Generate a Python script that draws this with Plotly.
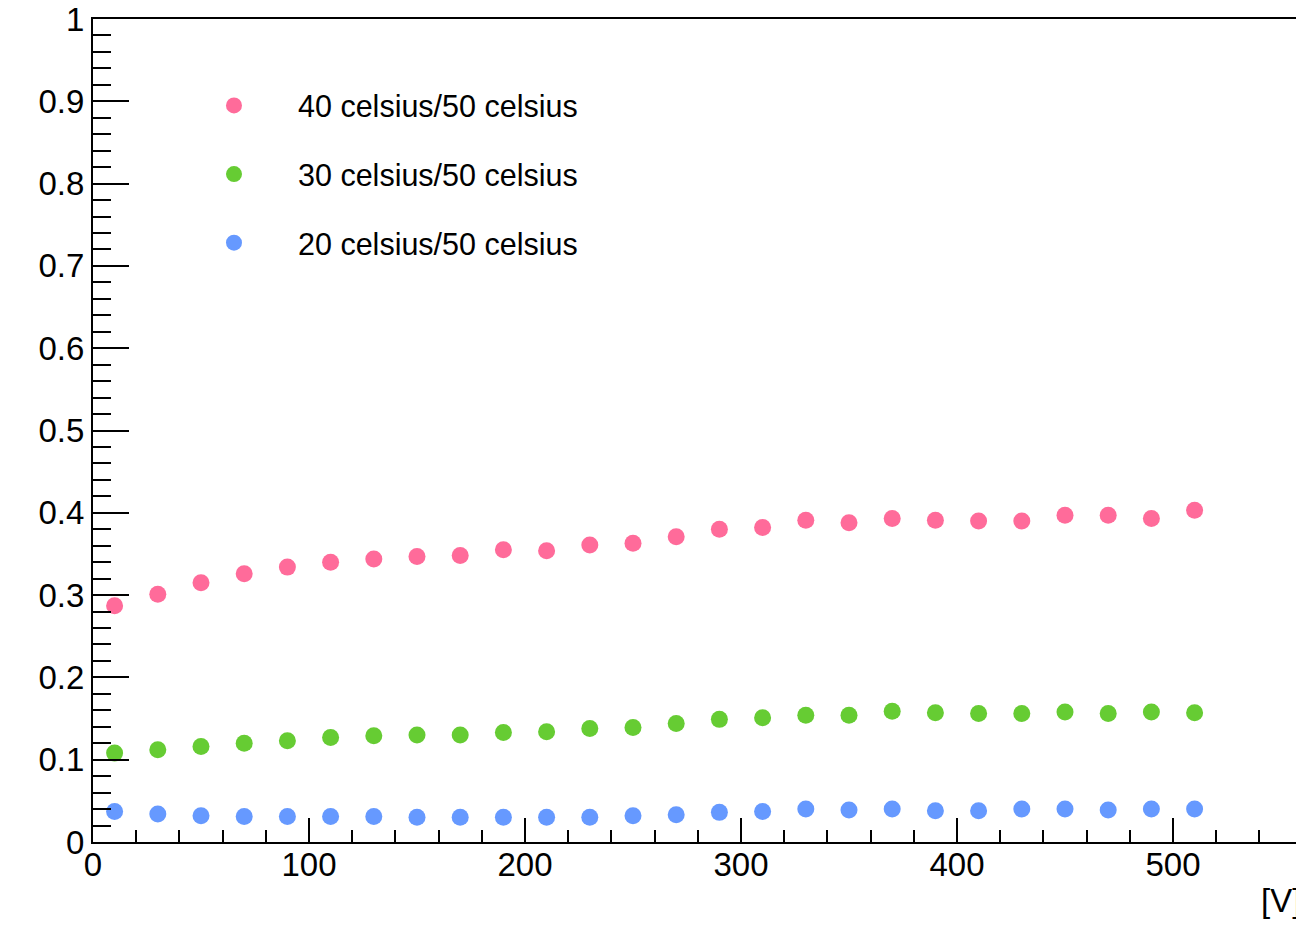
import plotly.graph_objects as go

voltage = [10, 30, 50, 70, 90, 110, 130, 150, 170, 190, 210, 230, 250,
           270, 290, 310, 330, 350, 370, 390, 410, 430, 450, 470, 490, 510]

ratio_40 = [0.287, 0.301, 0.315, 0.326, 0.334, 0.340, 0.344, 0.347, 0.348, 0.355, 0.354, 0.361, 0.363,
            0.371, 0.380, 0.382, 0.391, 0.388, 0.393, 0.391, 0.390, 0.390, 0.397, 0.397, 0.393, 0.403]
ratio_30 = [0.108, 0.112, 0.116, 0.120, 0.123, 0.127, 0.129, 0.130, 0.130, 0.133, 0.134, 0.138, 0.139,
            0.144, 0.149, 0.151, 0.154, 0.154, 0.159, 0.157, 0.156, 0.156, 0.158, 0.156, 0.158, 0.157]
ratio_20 = [0.037, 0.034, 0.032, 0.031, 0.031, 0.031, 0.031, 0.030, 0.030, 0.030, 0.030, 0.030, 0.032,
            0.033, 0.036, 0.037, 0.040, 0.039, 0.040, 0.038, 0.038, 0.040, 0.040, 0.039, 0.040, 0.040]

series_names = ["40 celsius/50 celsius", "30 celsius/50 celsius", "20 celsius/50 celsius"]
series_colors = ["#ff6b9a", "#66cc33", "#6699ff"]
series_values = [ratio_40, ratio_30, ratio_20]

FONT = "Liberation Sans, Arial, Helvetica, sans-serif"

fig = go.Figure()
for i, (name, color, vals) in enumerate(zip(series_names, series_colors, series_values)):
    fig.add_trace(go.Scatter(
        x=voltage, y=vals, mode="markers", name=name,
        legendgroup=f"g{i}",
        marker=dict(color=color, size=17, line=dict(width=0)),
    ))

fig.update_layout(
    width=1296, height=925,
    margin=dict(l=93, r=0, t=19, b=83),
    paper_bgcolor="white", plot_bgcolor="white",
    font=dict(family=FONT, color="black"),
    showlegend=True,
    legend=dict(
        x=0.064, y=0.927, xanchor="left", yanchor="top",
        font=dict(size=30.5, family=FONT, color="black"),
        bgcolor="rgba(0,0,0,0)",
        traceorder="grouped", tracegroupgap=26,
        itemwidth=118,
    ),
    xaxis=dict(
        range=[0, 1203 / 2.16], showgrid=False, zeroline=False,
        showline=True, linecolor="black", linewidth=2, mirror=True,
        ticks="inside", ticklen=24, tickwidth=2, tickcolor="black",
        dtick=100, tick0=0, ticklabelstandoff=-8,
        tickfont=dict(size=33, family=FONT, color="black"),
        minor=dict(ticks="inside", ticklen=12, tickwidth=2, tickcolor="black", dtick=20),
    ),
    yaxis=dict(
        range=[0, 1], showgrid=False, zeroline=False,
        showline=True, linecolor="black", linewidth=2, mirror=False,
        ticks="inside", ticklen=36, tickwidth=2, tickcolor="black",
        dtick=0.1, tick0=0,
        tickfont=dict(size=33, family=FONT, color="black"),
        minor=dict(ticks="inside", ticklen=18, tickwidth=2, tickcolor="black", dtick=0.02),
    ),
    annotations=[dict(
        text="[V]", xref="paper", yref="paper", x=1.0, y=-0.071,
        xanchor="left", yanchor="middle", xshift=-37, showarrow=False,
        font=dict(size=33, family=FONT, color="black"),
    )],
)

fig.write_html(
    "out.html",
    config={"displayModeBar": False},
    post_script="document.body.style.margin='0px';document.body.style.overflow='hidden';",
)
